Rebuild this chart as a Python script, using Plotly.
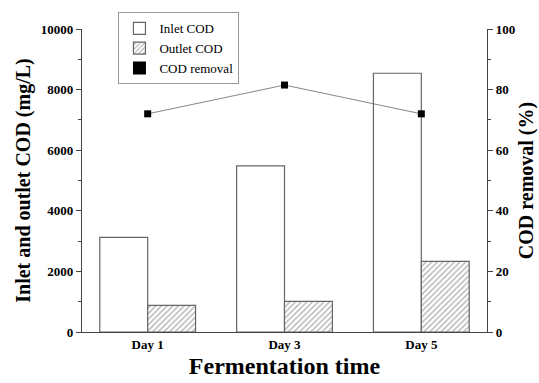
import plotly.graph_objects as go

days = ["Day 1", "Day 3", "Day 5"]
inlet_cod = [3120, 5480, 8540]
outlet_cod = [880, 1010, 2330]
cod_removal = [72, 81.5, 72]

font_family = "Liberation Serif, Times New Roman, serif"
axis_col = "#444444"
bar_line = "#666666"

fig = go.Figure()
fig.add_trace(go.Bar(
    x=days, y=inlet_cod, name="Inlet COD",
    marker=dict(color="white", line=dict(color=bar_line, width=1.2)),
))
fig.add_trace(go.Bar(
    x=days, y=outlet_cod, name="Outlet COD",
    marker=dict(color="white", line=dict(color=bar_line, width=1.2),
                pattern=dict(shape="/", fgcolor="#666666", bgcolor="white",
                             size=4, solidity=0.35)),
))
fig.add_trace(go.Scatter(
    x=days, y=cod_removal, name="COD removal", yaxis="y2",
    mode="lines+markers", showlegend=False,
    line=dict(color="#666666", width=0.8),
    marker=dict(symbol="square", size=7, color="black"),
))
# legend entry for removal shown as a black box
fig.add_trace(go.Scatter(
    x=[None], y=[None], name="COD removal", yaxis="y2", mode="markers",
    marker=dict(symbol="square", size=13, color="black"),
))

fig.update_layout(
    width=539, height=383,
    margin=dict(l=82, r=52, t=29, b=51, autoexpand=False),
    paper_bgcolor="white", plot_bgcolor="white",
    font=dict(family=font_family, color="black"),
    barmode="group", bargap=0.30, bargroupgap=0,
    showlegend=True,
    legend=dict(x=0.09, y=1.055, xanchor="left", yanchor="top",
                bgcolor="white", bordercolor="#999999", borderwidth=1,
                font=dict(family=font_family, size=13, color="black"),
                tracegroupgap=0, traceorder="normal"),
    xaxis=dict(
        range=[-0.48, 2.48], showline=True, linecolor=axis_col, linewidth=1.2,
        ticks="", showgrid=False, zeroline=False, automargin=False,
        tickfont=dict(family=font_family, size=13, color="black", weight="bold"),
        title=dict(text="<b>Fermentation time</b>", font=dict(size=24, family=font_family), standoff=6),
    ),
    yaxis=dict(
        range=[0, 10000], dtick=2000, tickformat="d", showline=True, linecolor=axis_col, linewidth=1.2,
        ticks="outside", ticklen=5, tickcolor=axis_col, showgrid=False, zeroline=False, automargin=False,
        minor=dict(ticks="outside", dtick=1000, ticklen=3, tickcolor=axis_col),
        tickfont=dict(family=font_family, size=13, color="black", weight="bold"),
        title=dict(text="<b>Inlet and outlet COD (mg/L)</b>", font=dict(size=20, family=font_family), standoff=4),
    ),
    yaxis2=dict(
        overlaying="y", side="right", range=[0, 100], dtick=20,
        showline=True, linecolor=axis_col, linewidth=1.2, automargin=False,
        ticks="outside", ticklen=5, tickcolor=axis_col, showgrid=False, zeroline=False,
        minor=dict(ticks="outside", dtick=10, ticklen=3, tickcolor=axis_col),
        tickfont=dict(family=font_family, size=13, color="black", weight="bold"),
        title=dict(text="<b>COD removal (%)</b>", font=dict(size=20, family=font_family), standoff=4),
    ),
)

fig.write_html("out.html")
